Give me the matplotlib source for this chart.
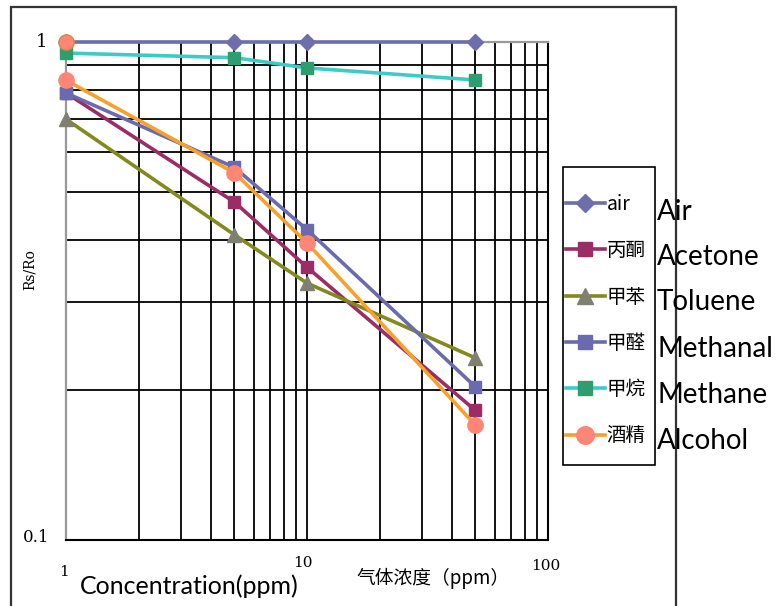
import matplotlib
matplotlib.use("Agg")
import matplotlib.pyplot as plt
from matplotlib.patches import Rectangle

# ---------------- data ----------------
conc = [1, 5, 10, 50]
air = [1.0, 1.0, 1.0, 1.0]
acetone = [0.79, 0.477, 0.353, 0.182]
toluene = [0.70, 0.41, 0.328, 0.232]
methanal = [0.79, 0.56, 0.42, 0.203]
methane = [0.95, 0.93, 0.887, 0.839]
alcohol = [0.838, 0.546, 0.395, 0.170]
extra_x = [1]
extra_y = [1.0]

legend_labels = ["air", "丙酮", "甲苯", "甲醛", "甲烷", "酒精"]
english_labels = ["Air", "Acetone", "Toluene", "Methanal", "Methane", "Alcohol"]
x_tick_values = [1, 10, 100]
x_tick_labels = ["1", "10", "100"]
y_tick_values = [0.1, 1]
y_tick_labels = ["0.1", "1"]

# ---------------- fonts ----------------
en_font = "Lato"
cjk = ["Noto Sans CJK SC", "DejaVu Sans"]
serif = ["DejaVu Serif", "Noto Sans CJK SC"]

W, H = 778, 606
fig = plt.figure(figsize=(W / 100, H / 100), dpi=100)
fig.patch.set_facecolor("white")

def fx(px):
    return px / W

def fy(py):
    return 1 - py / H

# outer chart frame
fig.patches.append(Rectangle((fx(11), fy(620)), fx(676) - fx(11), fy(7) - fy(620),
                             transform=fig.transFigure, fill=False,
                             edgecolor="#333333", linewidth=1.6, clip_on=False, zorder=0))

ax = fig.add_axes([fx(66), fy(540), fx(548) - fx(66), fy(42) - fy(540)])
ax.set_xscale("log")
ax.set_yscale("log")
ax.set_xlim(1, 100)
ax.set_ylim(0.1, 1)

ax.grid(True, which="both", color="black", linewidth=1.3)
ax.set_axisbelow(True)
for side in ["left", "top"]:
    ax.spines[side].set_color("#999999")
    ax.spines[side].set_linewidth(1.6)
for side in ["right", "bottom"]:
    ax.spines[side].set_color("black")
    ax.spines[side].set_linewidth(1.5)
ax.tick_params(which="both", length=0)
ax.set_xticks(x_tick_values)
ax.set_xticklabels([])
ax.set_yticks(y_tick_values)
ax.set_yticklabels([])
ax.minorticks_on()
ax.tick_params(which="minor", length=0, labelleft=False, labelbottom=False)

series = [
    (air, "#6E6EAA", "D", "#6E6EAA", 8),
    (acetone, "#9B2C66", "s", "#9B2C66", 9),
    (toluene, "#84891E", "^", "#7F8070", 10),
    (methanal, "#6A6AAE", "s", "#6A6AAE", 9),
    (methane, "#3CCBC8", "s", "#2E9E6E", 9),
    (alcohol, "#F7A12A", "o", "#FF8575", 11),
]
handles = []
for vals, lc, mk, mc, ms in series:
    h, = ax.plot(conc, vals, color=lc, linewidth=2.6, marker=mk, markersize=ms,
                 markerfacecolor=mc, markeredgecolor=mc, clip_on=False, zorder=3)
    handles.append(h)
ax.plot(extra_x, extra_y, linestyle="none", marker="o", markersize=11,
        markerfacecolor="#FF8575", markeredgecolor="#D9884A", clip_on=False, zorder=4)

# tick labels
fig.text(fx(42), fy(42), y_tick_labels[1], fontsize=13, family=serif, ha="center", va="center")
fig.text(fx(36), fy(538), y_tick_labels[0], fontsize=12, family=serif, ha="center", va="center")
fig.text(fx(64), fy(572), x_tick_labels[0], fontsize=11, family=serif, ha="center", va="center")
fig.text(fx(303), fy(563), x_tick_labels[1], fontsize=11, family=serif, ha="center", va="center")
fig.text(fx(546), fy(566), x_tick_labels[2], fontsize=11, family=serif, ha="center", va="center")

fig.text(fx(30), fy(270), "Rs/Ro", fontsize=10, family=serif, rotation=90, ha="center", va="center")
fig.text(fx(80), fy(586), "Concentration(ppm)", fontsize=18, family=en_font, ha="left", va="center")
fig.text(fx(433), fy(578), "气体浓度（ppm）", fontsize=13.5, family=cjk, ha="center", va="center")

# legend: frame drawn separately (narrow sides, tall top/bottom padding)
fig.patches.append(Rectangle((fx(563), fy(465)), fx(655) - fx(563), fy(167) - fy(465),
                             transform=fig.transFigure, facecolor="white",
                             edgecolor="black", linewidth=1.2, zorder=4))
leg = fig.legend(handles, legend_labels, loc="upper left",
                 bbox_to_anchor=(fx(566), fy(194)), prop={"family": cjk, "size": 14},
                 frameon=False, handlelength=2.0, handletextpad=0.1,
                 labelspacing=1.3, borderpad=0, borderaxespad=0, markerscale=1.15)
leg.set_zorder(5)

eng_y = [212, 257, 302, 349, 395, 441]
for lbl, py in zip(english_labels, eng_y):
    fig.text(fx(657), fy(py), lbl, fontsize=20, family=en_font, ha="left", va="center",
             zorder=10)

fig.savefig("out.png", dpi=100)
